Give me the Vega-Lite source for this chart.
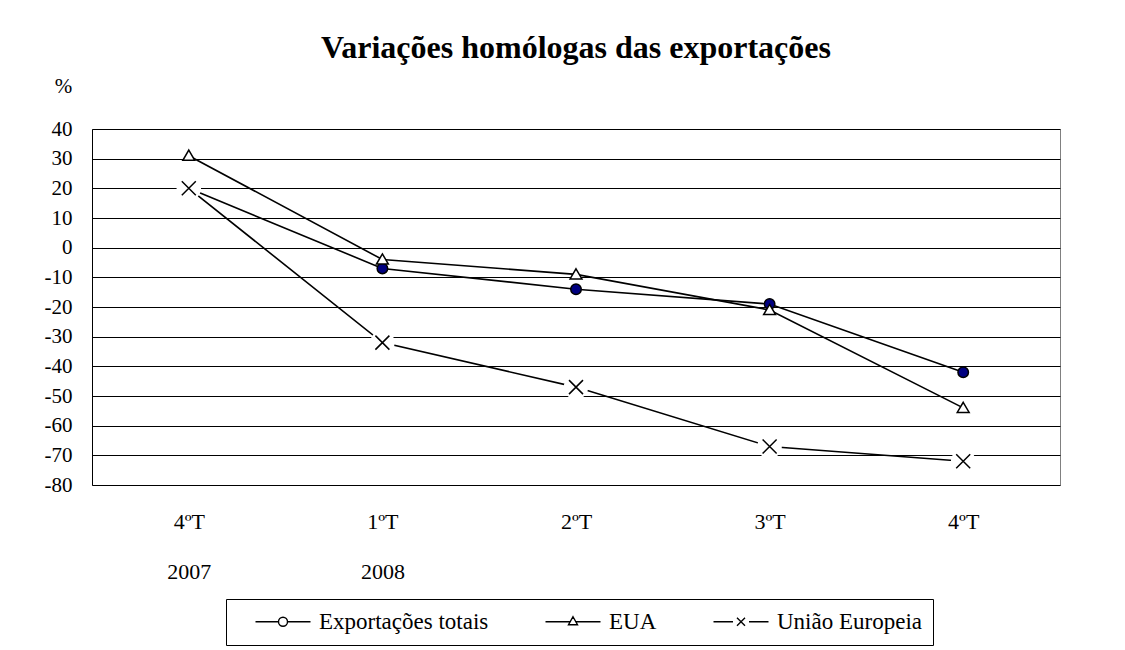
{
  "$schema": "https://vega.github.io/schema/vega-lite/v6.json",
  "width": 968,
  "height": 356,
  "autosize": "none",
  "padding": {"left": 92, "top": 129, "right": 65, "bottom": 165},
  "background": "white",
  "title": {
    "text": "Variações homólogas das exportações",
    "font": "Liberation Serif",
    "fontSize": 32,
    "fontWeight": "bold",
    "color": "black",
    "anchor": "middle",
    "offset": 10
  },
  "data": {
    "values": [
      {"trimestre": "4ºT 2007", "serie": "Exportações totais", "valor": 20},
      {"trimestre": "1ºT 2008", "serie": "Exportações totais", "valor": -7},
      {"trimestre": "2ºT 2008", "serie": "Exportações totais", "valor": -14},
      {"trimestre": "3ºT 2008", "serie": "Exportações totais", "valor": -19},
      {"trimestre": "4ºT 2008", "serie": "Exportações totais", "valor": -42},
      {"trimestre": "4ºT 2007", "serie": "EUA", "valor": 31},
      {"trimestre": "1ºT 2008", "serie": "EUA", "valor": -4},
      {"trimestre": "2ºT 2008", "serie": "EUA", "valor": -9},
      {"trimestre": "3ºT 2008", "serie": "EUA", "valor": -21},
      {"trimestre": "4ºT 2008", "serie": "EUA", "valor": -54},
      {"trimestre": "4ºT 2007", "serie": "União Europeia", "valor": 20},
      {"trimestre": "1ºT 2008", "serie": "União Europeia", "valor": -32},
      {"trimestre": "2ºT 2008", "serie": "União Europeia", "valor": -47},
      {"trimestre": "3ºT 2008", "serie": "União Europeia", "valor": -67},
      {"trimestre": "4ºT 2008", "serie": "União Europeia", "valor": -72}
    ]
  },
  "encoding": {
    "x": {
      "field": "trimestre",
      "type": "nominal",
      "sort": ["4ºT 2007", "1ºT 2008", "2ºT 2008", "3ºT 2008", "4ºT 2008"],
      "scale": {"padding": 0.5},
      "axis": {
        "title": null,
        "domain": false,
        "ticks": false,
        "grid": false,
        "labelAngle": 0,
        "labelFont": "Liberation Serif",
        "labelFontSize": 22,
        "labelColor": "black",
        "labelBaseline": "top",
        "labelPadding": 26,
        "labelLineHeight": 50,
        "labelExpr": "datum.value == '4ºT 2007' ? ['4ºT', '2007'] : datum.value == '1ºT 2008' ? ['1ºT', '2008'] : slice(datum.value, 0, 3)"
      }
    },
    "y": {
      "field": "valor",
      "type": "quantitative",
      "scale": {"domain": [-80, 40], "nice": false, "zero": false},
      "axis": {
        "title": "%",
        "titleAngle": 0,
        "titleX": -29,
        "titleY": -43,
        "titleAlign": "center",
        "titleBaseline": "middle",
        "titleFont": "Liberation Serif",
        "titleFontSize": 21,
        "titleFontWeight": "normal",
        "titleColor": "black",
        "values": [-80, -70, -60, -50, -40, -30, -20, -10, 0, 10, 20, 30, 40],
        "labelExpr": "'' + datum.value",
        "grid": true,
        "gridColor": "black",
        "gridWidth": 1,
        "gridOpacity": 1,
        "domain": true,
        "domainColor": "black",
        "domainWidth": 1,
        "ticks": false,
        "labelPadding": 20,
        "labelFont": "Liberation Serif",
        "labelFontSize": 21,
        "labelColor": "black"
      }
    }
  },
  "layer": [
    {
      "mark": {"type": "line", "color": "black", "strokeWidth": 1.6},
      "encoding": {"detail": {"field": "serie"}}
    },
    {
      "transform": [{"filter": "datum.serie === 'União Europeia'"}],
      "mark": {"type": "point", "shape": "circle", "filled": true, "fill": "white", "strokeWidth": 0, "size": 600, "opacity": 1}
    },
    {
      "transform": [{"filter": "datum.serie !== 'Exportações totais' || datum.trimestre !== '4ºT 2007'"}],
      "mark": {"type": "point", "filled": true, "stroke": "black", "strokeWidth": 1.5, "opacity": 1, "size": 196},
      "encoding": {
        "fill": {
          "field": "serie",
          "type": "nominal",
          "scale": {
            "domain": ["Exportações totais", "EUA", "União Europeia"],
            "range": ["#000080", "white", "transparent"]
          },
          "legend": null
        },
        "shape": {
          "field": "serie",
          "type": "nominal",
          "scale": {
            "domain": ["Exportações totais", "EUA", "União Europeia"],
            "range": [
              "M-0.75,0A0.75,0.75 0 1,0 0.75,0A0.75,0.75 0 1,0 -0.75,0Z",
              "M0,-0.8L0.85,0.65L-0.85,0.65Z",
              "M-1,-1L1,1M-1,1L1,-1"
            ]
          },
          "legend": null
        }
      }
    },
    {
      "transform": [{"filter": "false"}],
      "mark": {"type": "point", "filled": false, "color": "black", "strokeWidth": 1.4, "opacity": 1, "size": 400},
      "encoding": {
        "shape": {
          "field": "serie",
          "type": "nominal",
          "scale": {
            "domain": ["Exportações totais", "EUA", "União Europeia"],
            "range": [
              "M0.7,0H3M3.9,0H6.2M3,0A0.45,0.45 0 1,0 3.9,0A0.45,0.45 0 1,0 3,0Z",
              "M0.7,0H3.15M3.75,0H6.2M3.45,-0.5L3.9,0.3L3,0.3Z",
              "M0.7,0H2.65M4.25,0H6.2M3.05,-0.4L3.85,0.4M3.05,0.4L3.85,-0.4"
            ]
          },
          "legend": {
            "title": null,
            "orient": "none",
            "legendX": 134,
            "legendY": 470,
            "direction": "horizontal",
            "columns": 3,
            "columnPadding": 38,
            "labelFont": "Liberation Serif",
            "labelFontSize": 23,
            "labelColor": "black",
            "labelLimit": 400,
            "labelOffset": 59,
            "symbolSize": 400,
            "symbolStrokeWidth": 1.4,
            "symbolStrokeColor": "black",
            "symbolFillColor": {"expr": "datum.value === 'Exportações totais' ? '#000080' : 'white'"},
            "symbolOpacity": 1,
            "strokeColor": "black",
            "fillColor": "white",
            "padding": 11,
            "encode": {
              "symbols": {
                "fill": {"value": {"expr": "datum.value === 'Exportações totais' ? '#000080' : 'white'"}}
              }
            }
          }
        }
      }
    }
  ],
  "resolve": {"scale": {"shape": "independent", "fill": "independent"}},
  "config": {
    "view": {"stroke": "#808080", "strokeWidth": 1}
  }
}
